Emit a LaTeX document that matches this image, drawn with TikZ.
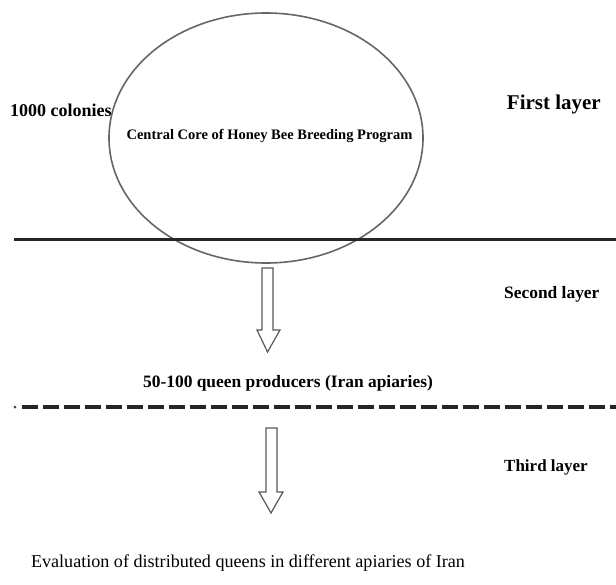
\documentclass[tikz,border=0pt]{standalone}
\usepackage{fontspec}
\setmainfont{Liberation Serif}
\begin{document}
\begin{tikzpicture}[x=1pt,y=-1pt,
  lbl/.style={inner sep=0pt, font=\bfseries},
  blockarrow/.style={draw=black!65, line width=1.2pt, fill=white, line join=miter},
  sepline/.style={draw=black!85, line width=3pt}]
\useasboundingbox (0,0) rectangle (616,584);
% ellipse
\draw[draw=black!60, line width=1.6pt] (266,138) ellipse [x radius=157, y radius=125];
% separators
\coordinate (l1a) at (14,239);
\coordinate (l1b) at (616,239);
\draw[sepline] (l1a) -- (l1b);
\coordinate (l2a) at (21.5,407);
\coordinate (l2b) at (616,407);
\fill[black!75] (15,407) circle (1.5);
\draw[sepline, line width=3.5pt, dash pattern=on 16pt off 5pt] (l2a) -- (l2b);
% texts
\node[lbl, font=\bfseries\fontsize{18}{20}\selectfont, anchor=west] (colonies) at (10,110) {1000 colonies};
\node[lbl, font=\bfseries\fontsize{21}{24}\selectfont, anchor=east] (first) at (601,104) {First layer};
\node[lbl, font=\bfseries\fontsize{14.5}{16}\selectfont] (core) at (269.5,136) {Central Core of Honey Bee Breeding Program};
\node[lbl, font=\bfseries\fontsize{17.4}{20}\selectfont, anchor=west] (second) at (504,294) {Second layer};
\node[lbl, font=\bfseries\fontsize{17.4}{20}\selectfont] (producers) at (288,383) {50-100 queen producers (Iran apiaries)};
\node[lbl, font=\bfseries\fontsize{17}{20}\selectfont, anchor=west] (third) at (504,467) {Third layer};
\node[inner sep=0pt, font=\fontsize{18.1}{20}\selectfont] (eval) at (248,563) {Evaluation of distributed queens in different apiaries of Iran};
% arrows
\draw[blockarrow] (262,268) -- (273,268) -- (273,330) -- (280,330) -- (267.5,352) -- (257,330) -- (262,330) -- cycle;
\draw[blockarrow] (266,428) -- (277,428) -- (277,492) -- (283,492) -- (271,513) -- (259,492) -- (266,492) -- cycle;
\end{tikzpicture}
\end{document}
